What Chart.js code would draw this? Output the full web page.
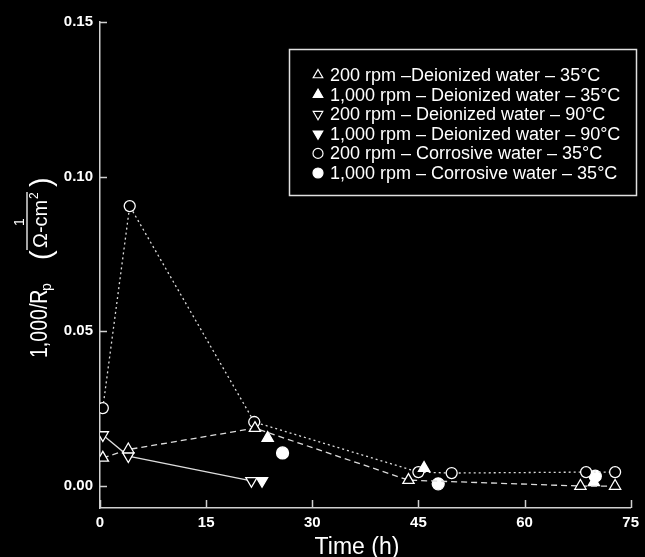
<!DOCTYPE html>
<html>
<head>
<meta charset="utf-8">
<script src="https://cdn.jsdelivr.net/npm/chart.js@4.4.1/dist/chart.umd.min.js"></script>
<style>
  html, body { margin: 0; padding: 0; background: #000; }
  canvas { display: block; }
</style>
</head>
<body>
<canvas id="myChart" width="645" height="557"></canvas>
<script>
// values: time (h) and 1,000/Rp
var s1Time = [0.4, 4.0, 21.9, 43.6, 67.9, 72.8];
var s1Value = [0.0091, 0.0118, 0.0187, 0.0019, 0.0, 0.0];

var s2Time = [23.7, 45.8, 69.8];
var s2Value = [0.0155, 0.0058, 0.0012];

var s3Time = [0.4, 4.0, 21.4];
var s3Value = [0.0165, 0.0097, 0.0017];

var s4Time = [22.9];
var s4Value = [0.0017];

var s5Time = [0.4, 4.2, 21.8, 45.0, 49.7, 68.7, 72.8];
var s5Value = [0.0252, 0.0905, 0.0207, 0.0045, 0.0042, 0.0045, 0.0045];

var s6Time = [25.8, 47.8, 70.0];
var s6Value = [0.0107, 0.0007, 0.0032];

var seriesLabels = [
  "200 rpm \u2013Deionized water \u2013 35\u00B0C",
  "1,000 rpm \u2013 Deionized water \u2013 35\u00B0C",
  "200 rpm \u2013 Deionized water \u2013 90\u00B0C",
  "1,000 rpm \u2013 Deionized water \u2013 90\u00B0C",
  "200 rpm \u2013 Corrosive water \u2013 35\u00B0C",
  "1,000 rpm \u2013 Corrosive water \u2013 35\u00B0C"
];

var xTicks = [0, 15, 30, 45, 60, 75];
var yTicks = [0.00, 0.05, 0.10, 0.15];

var fg = '#ffffff';
var lineCol = '#dcdcdc';

function pts(t, v) {
  var out = [];
  for (var i = 0; i < t.length; i++) out.push({x: t[i], y: v[i]});
  return out;
}

function series(label, t, v, style, rot, filled, dash, showLine, r) {
  return {
    label: label,
    data: pts(t, v),
    showLine: showLine,
    borderColor: lineCol,
    borderWidth: 1.3,
    borderDash: dash,
    pointStyle: style,
    pointRotation: rot,
    pointRadius: r,
    pointBorderWidth: 1.3,
    pointBorderColor: fg,
    pointBackgroundColor: filled ? fg : '#000',
    fill: false
  };
}

var datasets = [
  series(seriesLabels[0], s1Time, s1Value, 'triangle', 0, false, [6, 4], true, 6.5),
  series(seriesLabels[1], s2Time, s2Value, 'triangle', 0, true, [], false, 6.5),
  series(seriesLabels[2], s3Time, s3Value, 'triangle', 180, false, [], true, 6.5),
  series(seriesLabels[3], s4Time, s4Value, 'triangle', 180, true, [], false, 6.5),
  series(seriesLabels[4], s5Time, s5Value, 'circle', 0, false, [2, 3], true, 5.5),
  series(seriesLabels[5], s6Time, s6Value, 'circle', 0, true, [], false, 6)
];

var figurePlugin = {
  id: 'figure',
  beforeDraw: function(chart) {
    var ctx = chart.ctx;
    ctx.save();
    ctx.fillStyle = '#000';
    ctx.fillRect(0, 0, chart.width, chart.height);
    ctx.restore();
  },
  afterDraw: function(chart) {
    var ctx = chart.ctx;
    var area = chart.chartArea;
    var xs = chart.scales.x, ys = chart.scales.y;
    ctx.save();

    // inside tick marks
    ctx.strokeStyle = '#d0d0d0';
    ctx.lineWidth = 1.5;
    xTicks.forEach(function(t) {
      var px = Math.round(xs.getPixelForValue(t)) + 0.5;
      ctx.beginPath(); ctx.moveTo(px, area.bottom); ctx.lineTo(px, area.bottom - 8); ctx.stroke();
    });
    yTicks.forEach(function(t) {
      var py = Math.round(ys.getPixelForValue(t)) + 0.5;
      ctx.beginPath(); ctx.moveTo(area.left, py); ctx.lineTo(area.left + 7, py); ctx.stroke();
    });

    // x title
    ctx.fillStyle = fg;
    ctx.font = '23px "Liberation Sans", Arial, sans-serif';
    ctx.textAlign = 'center';
    ctx.textBaseline = 'alphabetic';
    ctx.fillText('Time (h)', 357, 554);

    // y title: 1,000/Rp (1 / Ω-cm²)
    ctx.save();
    ctx.translate(47, 358);
    ctx.rotate(-Math.PI / 2);
    ctx.textAlign = 'left';
    ctx.save();
    ctx.scale(0.85, 1);
    ctx.font = '23px "Liberation Sans", Arial, sans-serif';
    ctx.fillText('1,000/R', 0, 0);
    ctx.restore();
    ctx.font = '14px "Liberation Sans", Arial, sans-serif';
    ctx.fillText('p', 67, 4);
    ctx.font = '29px "Liberation Sans", Arial, sans-serif';
    ctx.fillText('(', 98, 4);
    ctx.fillText(')', 171, 4);
    ctx.font = '20px "Liberation Sans", Arial, sans-serif';
    ctx.fillText('\u03A9-cm', 110, 0);
    ctx.font = '12px "Liberation Sans", Arial, sans-serif';
    ctx.fillText('2', 159, -9);
    ctx.font = '14px "Liberation Sans", Arial, sans-serif';
    ctx.textAlign = 'center';
    ctx.fillText('1', 136, -23);
    ctx.strokeStyle = fg;
    ctx.lineWidth = 1.3;
    ctx.beginPath(); ctx.moveTo(108, -20); ctx.lineTo(166, -20); ctx.stroke();
    ctx.restore();

    // legend box
    ctx.fillStyle = '#000';
    ctx.fillRect(289, 49, 347, 146);
    ctx.strokeStyle = '#e0e0e0';
    ctx.lineWidth = 1.5;
    ctx.strokeRect(289.5, 49.5, 347, 146);
    ctx.font = '18px "Liberation Sans", Arial, sans-serif';
    ctx.textAlign = 'left';
    ctx.textBaseline = 'middle';
    chart.data.datasets.forEach(function(ds, i) {
      var y = 75 + i * 19.6;
      ctx.lineWidth = 1.2;
      ctx.strokeStyle = fg;
      ctx.fillStyle = ds.pointBackgroundColor;
      ctx.setLineDash([]);
      Chart.helpers.drawPoint(ctx, {
        pointStyle: ds.pointStyle,
        rotation: ds.pointRotation,
        radius: ds.pointStyle === 'circle' ? 5 : 5.5,
        borderWidth: 1.2
      }, 318, y);
      ctx.fillStyle = fg;
      ctx.fillText(ds.label, 330, y + 1);
    });
    ctx.restore();
  }
};

var tickFont = {family: '"Liberation Sans", Arial, sans-serif', size: 15, weight: 'bold'};

var chart = new Chart(document.getElementById('myChart').getContext('2d'), {
  type: 'scatter',
  data: { datasets: datasets },
  options: {
    responsive: false,
    animation: false,
    layout: { padding: { left: 0, right: 7, top: 22, bottom: 0 } },
    plugins: { legend: { display: false }, tooltip: { enabled: false } },
    scales: {
      x: {
        type: 'linear',
        min: 0,
        max: 75,
        afterBuildTicks: function(scale) { scale.ticks = xTicks.map(function(v) { return {value: v}; }); },
        afterFit: function(scale) { scale.height = 49; },
        grid: { drawOnChartArea: false, drawTicks: false },
        border: { display: true, color: '#d0d0d0', width: 1.5 },
        ticks: { color: fg, font: tickFont, padding: 6, maxRotation: 0 }
      },
      y: {
        type: 'linear',
        min: -0.0071,
        max: 0.15,
        afterBuildTicks: function(scale) { scale.ticks = yTicks.map(function(v) { return {value: v}; }); },
        afterFit: function(scale) { scale.width = 100; },
        grid: { drawOnChartArea: false, drawTicks: false },
        border: { display: true, color: '#d0d0d0', width: 1.5 },
        ticks: { color: fg, font: tickFont, padding: 7, callback: function(v) { return v.toFixed(2); } }
      }
    }
  },
  plugins: [figurePlugin]
});
</script>
</body>
</html>
